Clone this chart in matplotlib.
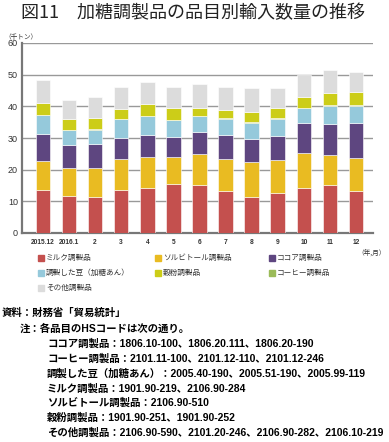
import numpy as np
import matplotlib
matplotlib.use('Agg')
import matplotlib.pyplot as plt

plt.rcParams['font.family'] = ['Noto Sans CJK JP', 'DejaVu Sans']

# months
months = ['2015.12', '2016.1', '2', '3', '4', '5', '6', '7', '8', '9', '10', '11', '12']

# stacked series (thousand tons)
milk = [13.5, 11.8, 11.3, 13.5, 14.2, 15.4, 15.1, 13.4, 11.5, 12.7, 14.1, 15.1, 13.3]
sorbitol = [9.1, 8.6, 9.1, 9.8, 9.7, 8.5, 9.8, 10.0, 11.0, 10.5, 11.2, 9.5, 10.5]
cocoa = [8.8, 7.3, 7.7, 6.6, 7.0, 6.3, 7.0, 7.4, 7.3, 7.3, 9.5, 9.9, 10.8]
beans = [5.9, 4.7, 4.5, 6.0, 6.0, 5.5, 5.0, 5.3, 5.0, 5.6, 4.6, 5.7, 5.6]
coffee = [0.1, 0.1, 0.1, 0.1, 0.1, 0.1, 0.1, 0.1, 0.1, 0.1, 0.1, 0.1, 0.1]
grain = [3.8, 3.4, 3.7, 3.3, 3.8, 3.8, 2.5, 2.7, 3.4, 3.3, 3.4, 3.8, 4.1]
other = [7.0, 6.2, 6.4, 6.9, 6.8, 6.6, 7.6, 7.2, 7.5, 6.4, 6.9, 7.3, 6.5]

labels = ['ミルク調製品', 'ソルビトール調製品', 'ココア調製品',
          '調製した豆（加糖あん）', '穀粉調製品', 'コーヒー調製品', 'その他調製品']
colors = ['#C4504E', '#E9BB22', '#5E4680', '#95C9DB', '#CCCD18', '#9BBB59', '#DCDCDC']

fig = plt.figure(figsize=(3.89, 4.42), dpi=100)
ax = fig.add_axes([22 / 389, 1 - 233 / 442, 351 / 389, 190 / 442])

x = np.arange(len(months))
bottom = np.zeros(len(months))
stack = [(milk, 0), (sorbitol, 1), (cocoa, 2), (beans, 3), (coffee, 5), (grain, 4), (other, 6)]
for vals, i in stack:
    ax.bar(x, vals, width=0.56, bottom=bottom, color=colors[i],
           edgecolor='white', linewidth=0.4, zorder=3)
    bottom += np.array(vals)

ax.set_ylim(0, 60)
ax.set_xlim(-0.8, len(months) - 0.35)
ax.set_yticks(range(0, 61, 10))
ax.yaxis.grid(True, color='#999999', linewidth=1.0, zorder=0)
ax.set_xticks(x)
ax.set_xticklabels(months, fontsize=4.8, fontweight='bold', family=['Liberation Sans'])
ax.tick_params(axis='y', labelsize=6.5, length=0, pad=3, labelcolor='#333333')
ax.tick_params(axis='x', length=0, pad=4, labelcolor='#333333')
for lab in ax.get_yticklabels():
    lab.set_family(['Liberation Sans'])
for s in ['top', 'right']:
    ax.spines[s].set_visible(False)
ax.spines['left'].set_color('#777777')
ax.spines['left'].set_linewidth(1.6)
ax.spines['bottom'].set_color('#777777')
ax.spines['bottom'].set_linewidth(1.6)

# title and unit labels
fig.text(21 / 389, 1 - 13 / 442, '図11　加糖調製品の品目別輸入数量の推移',
         fontsize=13, va='center', ha='left', color='#222222')
fig.text(4 / 389, 1 - 37 / 442, '（千トン）', fontsize=4.8, va='center', ha='left', color='#333333')
fig.text(386 / 389, 1 - 253 / 442, '（年,月）', fontsize=4.8, va='center', ha='right', color='#333333')

# legend
leg_pos = [(38, 258), (155, 258), (269, 258), (38, 273), (155, 273), (269, 273), (38, 288)]
for i, (px, py) in enumerate(leg_pos):
    fig.patches.append(plt.Rectangle((px / 389, 1 - (py + 3) / 442), 6 / 389, 6 / 442,
                                     transform=fig.transFigure, color=colors[i]))
    fig.text((px + 8) / 389, 1 - py / 442, labels[i], fontsize=5.5, va='center', ha='left',
             color='#333333')

# source and notes
note_font = ['Liberation Sans', 'Noto Sans CJK JP']
fig.text(2 / 389, 1 - 313 / 442, '資料：財務省「貿易統計」', fontsize=7.5, va='center', ha='left',
         fontweight='bold', family=note_font)
notes = [
    'ココア調製品：1806.10-100、1806.20.111、1806.20-190',
    'コーヒー調製品：2101.11-100、2101.12-110、2101.12-246',
    '調製した豆（加糖あん）：2005.40-190、2005.51-190、2005.99-119',
    'ミルク調製品：1901.90-219、2106.90-284',
    'ソルビトール調製品：2106.90-510',
    '穀粉調製品：1901.90-251、1901.90-252',
    'その他調製品：2106.90-590、2101.20-246、2106.90-282、2106.10-219',
]
fig.text(20 / 389, 1 - 329 / 442, '注：各品目のHSコードは次の通り。', fontsize=7.5, va='center',
         ha='left', fontweight='bold', family=note_font)
for k, line in enumerate(notes):
    fig.text(47 / 389, 1 - (343.5 + 14.9 * k) / 442, line, fontsize=7.5, va='center', ha='left',
             fontweight='bold', family=note_font)

fig.savefig('out.png', dpi=100)
